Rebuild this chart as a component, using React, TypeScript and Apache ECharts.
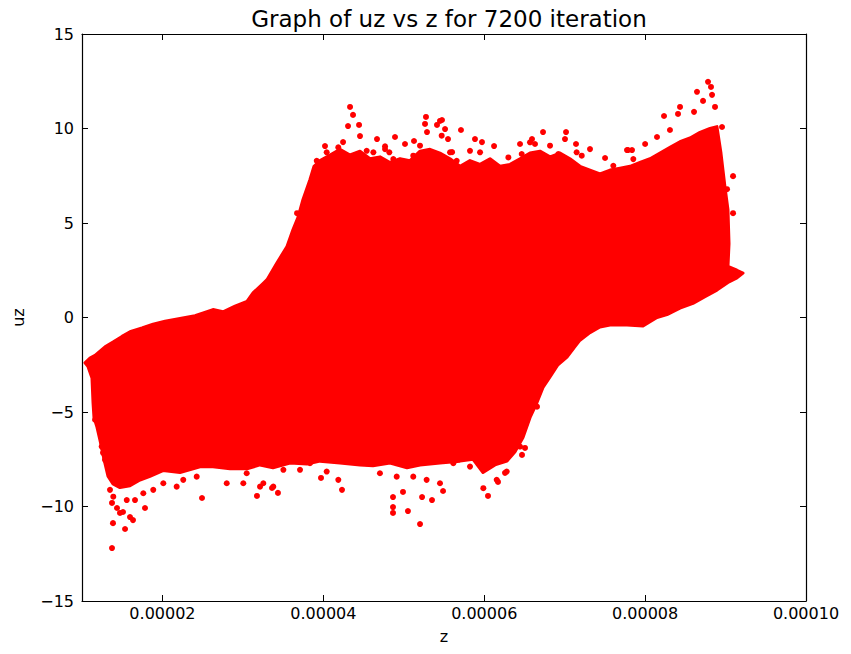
import React, { useEffect, useRef } from "react";
import * as echarts from "echarts";

// ---- data (z in metres, uz) ----
const TITLE = "Graph of uz vs z for 7200 iteration";
const X_TICKS = [0.00002, 0.00004, 0.00006, 0.00008, 0.0001];

// upper edge of the dense cloud (left to right)
const upperZ = [
  1.037e-5, 1.099e-5, 1.162e-5, 1.286e-5, 1.385e-5, 1.497e-5, 1.597e-5, 1.746e-5, 1.883e-5, 2.032e-5,
  2.218e-5, 2.405e-5, 2.628e-5, 2.753e-5, 2.902e-5, 3.051e-5, 3.126e-5, 3.25e-5, 3.3e-5, 3.424e-5,
  3.548e-5, 3.623e-5, 3.685e-5, 3.747e-5, 3.834e-5, 3.884e-5, 3.959e-5, 4.083e-5, 4.207e-5, 4.332e-5,
  4.456e-5, 4.58e-5, 4.704e-5, 4.829e-5, 4.953e-5, 5.077e-5, 5.202e-5, 5.326e-5, 5.45e-5, 5.575e-5,
  5.699e-5, 5.823e-5, 5.948e-5, 6.072e-5, 6.196e-5, 6.321e-5, 6.445e-5, 6.569e-5, 6.693e-5, 6.818e-5,
  6.942e-5, 7.066e-5, 7.191e-5, 7.315e-5, 7.439e-5, 7.564e-5, 7.688e-5, 7.812e-5, 7.936e-5, 8.061e-5,
  8.185e-5, 8.309e-5, 8.433e-5, 8.558e-5, 8.682e-5, 8.806e-5, 8.893e-5, 8.943e-5, 8.968e-5, 8.993e-5,
  9.03e-5, 9.043e-5, 9.03e-5, 9.142e-5, 9.217e-5,
];
const upperUz = [
  -2.4, -2.15, -2.0, -1.55, -1.3, -1.0, -0.75, -0.55, -0.35, -0.2,
  -0.05, 0.1, 0.42, 0.3, 0.6, 0.85, 1.3, 1.8, 2.0, 2.9,
  3.75, 4.65, 5.3, 6.25, 7.3, 8.0, 8.3, 8.6, 8.9, 8.6,
  8.8, 8.4, 8.5, 8.2, 8.4, 8.3, 8.8, 8.9, 8.7, 8.4,
  8.0, 8.3, 8.1, 8.4, 8.0, 8.1, 8.4, 8.7, 8.8, 8.5,
  8.7, 8.4, 8.0, 7.8, 7.6, 7.8, 7.9, 8.0, 8.2, 8.4,
  8.7, 9.0, 9.3, 9.5, 9.8, 10.0, 10.1, 8.7, 7.8, 6.9,
  5.7, 3.9, 2.7, 2.5, 2.35,
];

// lower edge of the dense cloud (left to right)
const lowerZ = [
  1.037e-5, 1.075e-5, 1.124e-5, 1.137e-5, 1.149e-5, 1.186e-5, 1.224e-5, 1.273e-5, 1.323e-5, 1.385e-5,
  1.472e-5, 1.597e-5, 1.721e-5, 1.845e-5, 2.007e-5, 2.218e-5, 2.467e-5, 2.628e-5, 2.84e-5, 3.051e-5,
  3.213e-5, 3.374e-5, 3.586e-5, 3.797e-5, 3.959e-5, 4.207e-5, 4.456e-5, 4.617e-5, 4.829e-5, 5.04e-5,
  5.202e-5, 5.45e-5, 5.699e-5, 5.861e-5, 5.985e-5, 6.134e-5, 6.283e-5, 6.383e-5, 6.482e-5, 6.569e-5,
  6.656e-5, 6.731e-5, 6.818e-5, 6.917e-5, 7.029e-5, 7.116e-5, 7.191e-5, 7.315e-5, 7.439e-5, 7.564e-5,
  7.775e-5, 7.974e-5, 8.148e-5, 8.272e-5, 8.433e-5, 8.595e-5, 8.744e-5, 8.893e-5, 9.03e-5, 9.142e-5,
  9.217e-5,
];
const lowerUz = [
  -2.4, -2.6, -3.2, -4.5, -5.3, -5.8, -6.5, -7.5, -8.4, -8.8,
  -9.0, -8.9, -8.6, -8.4, -8.1, -8.2, -7.9, -7.9, -8.0, -8.0,
  -7.8, -7.95, -7.7, -7.75, -7.6, -7.7, -7.8, -7.85, -7.7, -7.95,
  -7.8, -7.7, -7.6, -7.5, -8.2, -7.8, -7.6, -7.1, -6.35, -5.3,
  -4.5, -3.7, -3.15, -2.5, -2.1, -1.6, -1.2, -0.8, -0.5, -0.4,
  -0.4, -0.45, 0.0, 0.15, 0.5, 0.75, 1.1, 1.45, 1.85, 2.1,
  2.35,
];

// scattered points above the cloud
const topDotZ = [
  4.332e-5, 4.369e-5, 4.307e-5, 4.444e-5, 4.456e-5, 4.245e-5, 4.667e-5, 4.021e-5, 4.145e-5, 3.673e-5,
  5.276e-5, 5.45e-5, 5.413e-5, 5.264e-5, 5.127e-5, 5.55e-5, 5.289e-5, 5.6e-5, 5.475e-5, 5.711e-5,
  5.972e-5, 6.122e-5, 6.731e-5, 7.017e-5, 7.004e-5, 7.141e-5, 7.787e-5, 7.502e-5, 8.782e-5, 8.819e-5,
  8.832e-5, 8.645e-5, 8.72e-5, 8.434e-5, 8.608e-5, 8.235e-5, 8.869e-5, 8.409e-5, 8.956e-5, 8.309e-5,
  8.148e-5, 7.775e-5, 7.837e-5, 9.093e-5, 9.018e-5, 9.093e-5, 4.891e-5, 5.015e-5, 4.767e-5, 5.885e-5,
  6.445e-5, 6.594e-5, 7.315e-5, 8.0e-5, 4.767e-5, 4.82e-5, 4.953e-5, 5.118e-5, 5.202e-5, 5.471e-5,
  5.658e-5, 3.918e-5, 4.042e-5, 4.186e-5, 4.539e-5, 4.622e-5, 4.87e-5, 5.513e-5, 5.575e-5, 5.823e-5,
  5.948e-5, 6.3e-5, 6.466e-5, 6.569e-5, 6.631e-5, 6.818e-5, 6.921e-5, 7.149e-5, 7.212e-5, 7.605e-5,
  7.853e-5,
];
const topDotUz = [
  11.14, 10.72, 10.13, 10.19, 9.6, 9.28, 9.44, 9.07, 8.49, 5.52,
  10.61, 10.4, 10.19, 10.24, 9.34, 9.44, 9.81, 8.75, 10.45, 9.92,
  9.28, 9.07, 9.81, 9.81, 9.44, 9.18, 8.86, 8.44, 12.47, 12.2,
  11.78, 11.94, 11.46, 11.14, 10.88, 10.66, 11.14, 10.77, 10.08, 9.92,
  9.55, 8.86, 8.86, 7.48, 6.79, 5.52, 9.55, 9.18, 8.91, 9.44,
  9.18, 9.44, 8.91, 9.18, 9.06, 8.74, 8.29, 8.56, 9.09, 9.62,
  8.29, 8.29, 8.74, 9.0, 8.82, 8.74, 8.38, 9.97, 8.74, 8.82,
  8.74, 8.47, 8.65, 9.27, 9.18, 9.09, 8.65, 8.74, 8.56, 8.03,
  8.38,
];

// scattered points below the cloud
const bottomDotZ = [
  3.175e-5, 4.232e-5, 4.866e-5, 4.866e-5, 4.866e-5, 5.052e-5, 5.202e-5, 5.227e-5, 5.351e-5, 6.047e-5,
  3.436e-5, 3.362e-5, 3.971e-5, 5.488e-5, 4.99e-5, 6.507e-5, 6.47e-5, 6.656e-5, 6.171e-5, 6.258e-5,
  1.373e-5, 1.535e-5, 1.385e-5, 1.634e-5, 1.597e-5, 1.472e-5, 1.783e-5, 2.492e-5, 1.435e-5, 1.51e-5,
  1.162e-5, 1.224e-5, 1.261e-5, 1.373e-5, 1.265e-5, 1.245e-5, 1.286e-5, 3.047e-5, 3.254e-5, 3.503e-5,
  3.71e-5, 3.834e-5, 4.042e-5, 4.186e-5, 4.539e-5, 4.704e-5, 4.912e-5, 5.118e-5, 5.284e-5, 5.45e-5,
  5.616e-5, 5.823e-5, 5.989e-5, 6.155e-5, 6.279e-5, 6.445e-5, 1.348e-5, 1.389e-5, 1.556e-5, 1.659e-5,
  1.762e-5, 1.886e-5, 2.011e-5, 2.177e-5, 2.259e-5, 2.426e-5, 2.799e-5, 3.005e-5, 3.213e-5, 3.378e-5,
];
const bottomDotUz = [
  -9.44, -9.12, -9.5, -10.03, -10.34, -10.24, -10.93, -9.5, -9.66, -9.44,
  -9.28, -9.02, -8.49, -9.18, -9.23, -6.9, -7.27, -4.72, -8.7, -8.22,
  -12.2, -11.19, -10.88, -10.72, -10.56, -10.34, -10.08, -9.55, -10.08, -10.29,
  -5.41, -5.78, -7.16, -9.81, -6.3, -6.83, -7.53, -8.24, -8.77, -8.06,
  -8.06, -7.71, -8.15, -8.59, -7.71, -8.24, -8.42, -8.42, -8.59, -8.77,
  -7.71, -7.89, -9.03, -8.59, -8.15, -6.83, -9.12, -9.48, -9.66, -9.66,
  -9.3, -9.12, -8.77, -8.95, -8.59, -8.42, -8.77, -8.77, -8.95, -8.95,
];

const RED = "#ff0000";
const FONT = "DejaVu Sans";

export default function App() {
  const ref = useRef<HTMLDivElement>(null);
  useEffect(() => {
    if (!ref.current) return;
    const chart = echarts.init(ref.current, null, { renderer: "svg" });

    const cloud: number[][] = [];
    for (let i = 0; i < upperZ.length; i++) cloud.push([upperZ[i], upperUz[i]]);
    for (let i = lowerZ.length - 1; i >= 0; i--) cloud.push([lowerZ[i], lowerUz[i]]);
    const dots = [
      ...topDotZ.map((z, i) => [z, topDotUz[i]]),
      ...bottomDotZ.map((z, i) => [z, bottomDotUz[i]]),
    ];

    const axisLine = { show: true, onZero: false, lineStyle: { color: "#000", width: 1.2 } };
    const tickStyle = { show: true, inside: true, length: 6, lineStyle: { color: "#000", width: 1 } };
    const xCommon = {
      type: "value" as const,
      min: 0.00001,
      max: 0.0001,
      splitLine: { show: false },
      axisLine,
    };
    const yCommon = {
      type: "value" as const,
      min: -15,
      max: 15,
      interval: 5,
      splitLine: { show: false },
      axisLine,
    };

    chart.setOption({
      animation: false,
      backgroundColor: "#fff",
      title: {
        text: TITLE,
        left: 444,
        textAlign: "center",
        top: 2,
        textStyle: { fontFamily: FONT, fontSize: 23, fontWeight: "normal", color: "#000" },
      },
      grid: { left: 82, right: 45, top: 34, bottom: 53 },
      xAxis: [
        {
          ...xCommon,
          position: "bottom",
          name: "z",
          nameLocation: "middle",
          nameGap: 27,
          nameTextStyle: { fontFamily: FONT, fontSize: 16, color: "#000" },
          axisTick: { ...tickStyle, customValues: X_TICKS },
          axisLabel: {
            customValues: X_TICKS,
            margin: 4,
            fontFamily: FONT,
            fontSize: 16,
            color: "#000",
            formatter: (v: number) => v.toFixed(5),
          },
        },
        {
          ...xCommon,
          position: "top",
          axisTick: { ...tickStyle, customValues: X_TICKS },
          axisLabel: { show: false },
        },
      ],
      yAxis: [
        {
          ...yCommon,
          position: "left",
          name: "uz",
          nameLocation: "middle",
          nameGap: 56,
          nameRotate: 90,
          nameTextStyle: { fontFamily: FONT, fontSize: 16, color: "#000" },
          axisTick: tickStyle,
          axisLabel: {
            margin: 8,
            fontFamily: FONT,
            fontSize: 16,
            color: "#000",
            formatter: (v: number) => String(v).replace("-", "\u2212"),
          },
        },
        {
          ...yCommon,
          position: "right",
          axisTick: tickStyle,
          axisLabel: { show: false },
        },
      ],
      series: [
        {
          type: "custom",
          xAxisIndex: 0,
          yAxisIndex: 0,
          data: cloud,
          silent: true,
          renderItem: (params: any, api: any) => {
            if (params.dataIndex !== 0) return null;
            const pts = cloud.map((p) => api.coord(p));
            return {
              type: "polygon",
              shape: { points: pts, smooth: 0 },
              style: { fill: RED, stroke: RED, lineWidth: 3, lineJoin: "round" },
            };
          },
        },
        {
          type: "scatter",
          xAxisIndex: 0,
          yAxisIndex: 0,
          data: dots,
          symbol: "circle",
          symbolSize: 6,
          itemStyle: { color: RED, opacity: 1 },
          silent: true,
        },
      ],
    });
    return () => chart.dispose();
  }, []);
  return (
    <div
      ref={ref}
      style={{ position: "fixed", left: 0, top: 0, width: 851, height: 654, background: "#fff" }}
    />
  );
}
